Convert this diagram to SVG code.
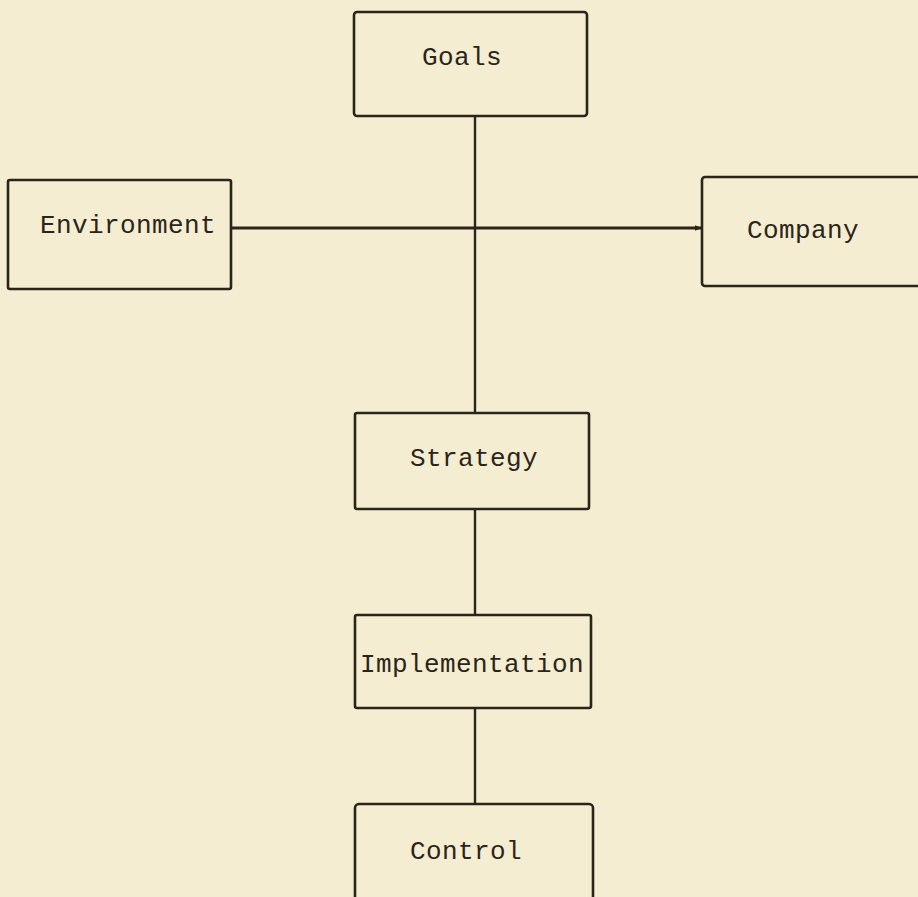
<svg xmlns="http://www.w3.org/2000/svg" width="918" height="897" viewBox="0 0 918 897">
<style>
.box{fill:none;stroke:#2b2519;stroke-width:2.6;stroke-linejoin:round}
.lbl{font-family:"Liberation Mono","DejaVu Sans Mono",monospace;font-size:26px;letter-spacing:0.4px;fill:#2b2519;text-anchor:middle}
.ln{stroke:#2b2519;stroke-width:2.4;fill:none}
</style>
<defs>
<marker id="ah" viewBox="0 0 10 10" refX="10" refY="5" markerWidth="7" markerHeight="7" orient="auto" markerUnits="userSpaceOnUse">
<path d="M0,1 L10,5 L0,9 z" fill="#2b2519"/>
</marker>
</defs>
<rect width="918" height="897" fill="#f4edd1"/>
<g id="connectors">
<line class="ln" x1="475" y1="116" x2="475" y2="413"/>
<line class="ln" x1="231" y1="228" x2="702" y2="228" style="stroke-width:3" marker-end="url(#ah)"/>
<line class="ln" x1="475" y1="509" x2="475" y2="615"/>
<line class="ln" x1="475" y1="708" x2="475" y2="804"/>
</g>
<g id="goals">
<rect class="box" x="354" y="12" width="233" height="104" rx="3"/>
<text class="lbl" x="462" y="65">Goals</text>
</g>
<g id="environment">
<rect class="box" x="8" y="180" width="223" height="109" rx="2"/>
<text class="lbl" x="128" y="233">Environment</text>
</g>
<g id="company">
<rect class="box" x="702" y="177" width="240" height="109" rx="3"/>
<text class="lbl" x="803" y="238">Company</text>
</g>
<g id="strategy">
<rect class="box" x="355" y="413" width="234" height="96" rx="2"/>
<text class="lbl" x="474" y="466">Strategy</text>
</g>
<g id="implementation">
<rect class="box" x="355" y="615" width="236" height="93" rx="2"/>
<text class="lbl" x="472" y="672">Implementation</text>
</g>
<g id="control">
<rect class="box" x="355" y="804" width="238" height="120" rx="4"/>
<text class="lbl" x="466" y="859">Control</text>
</g>
</svg>
